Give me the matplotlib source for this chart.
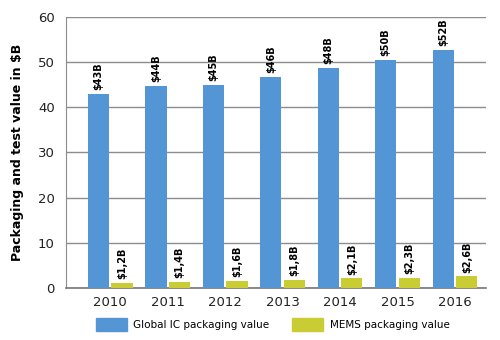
import numpy as np
import matplotlib.pyplot as plt
from matplotlib.patches import Patch

years = ['2010', '2011', '2012', '2013', '2014', '2015', '2016']
ic_values = [43, 44.7, 45, 46.7, 48.7, 50.5, 52.7]
ic_labels = ['$43B', '$44B', '$45B', '$46B', '$48B', '$50B', '$52B']
mems_values = [1.2, 1.4, 1.6, 1.8, 2.1, 2.3, 2.6]
mems_labels = ['$1,2B', '$1,4B', '$1,6B', '$1,8B', '$2,1B', '$2,3B', '$2,6B']

blue = '#5495d5'
yellow = '#c9cc33'

fig = plt.figure(figsize=(5, 3.4), dpi=100)
ax = fig.add_axes([0.132, 0.153, 0.840, 0.797])

x = np.arange(len(years))
w = 0.37
ax.bar(x - w / 2 - 0.02, ic_values, w, color=blue, zorder=3)
ax.bar(x + w / 2 + 0.02, mems_values, w, color=yellow, zorder=3)

for i in range(len(years)):
    ax.text(x[i] - w / 2 - 0.02, ic_values[i] + 0.8, ic_labels[i], rotation=90,
            ha='center', va='bottom', fontsize=7, fontweight='bold')
    ax.text(x[i] + w / 2 + 0.02, mems_values[i] + 0.8, mems_labels[i], rotation=90,
            ha='center', va='bottom', fontsize=7, fontweight='bold')

ax.set_ylim(0, 60)
ax.set_yticks(range(0, 61, 10))
ax.set_xlim(-0.77, 6.54)
ax.set_xticks(x)
ax.set_xticklabels(years)
ax.tick_params(axis='both', labelsize=9.5, length=0, colors='#222222')
ax.tick_params(axis='x', pad=6)
ax.tick_params(axis='y', pad=8)
ax.yaxis.grid(True, color='#8c8c8c', linewidth=1, zorder=0)

for s in ['top', 'right']:
    ax.spines[s].set_visible(False)
ax.spines['left'].set_color('#8c8c8c')
ax.spines['bottom'].set_color('#777777')
ax.spines['bottom'].set_linewidth(1.2)

ax.set_ylabel('Packaging and test value in $B', fontsize=9, fontweight='bold', labelpad=10)

handles = [Patch(color=blue, label='Global IC packaging value'),
           Patch(color=yellow, label='MEMS packaging value')]
fig.legend(handles=handles, loc='lower center', bbox_to_anchor=(0.545, 0.0), ncol=2,
           frameon=False, fontsize=7.5, handlelength=3, handleheight=1.5,
           handletextpad=0.6, columnspacing=2.2)

fig.savefig('out.png')
